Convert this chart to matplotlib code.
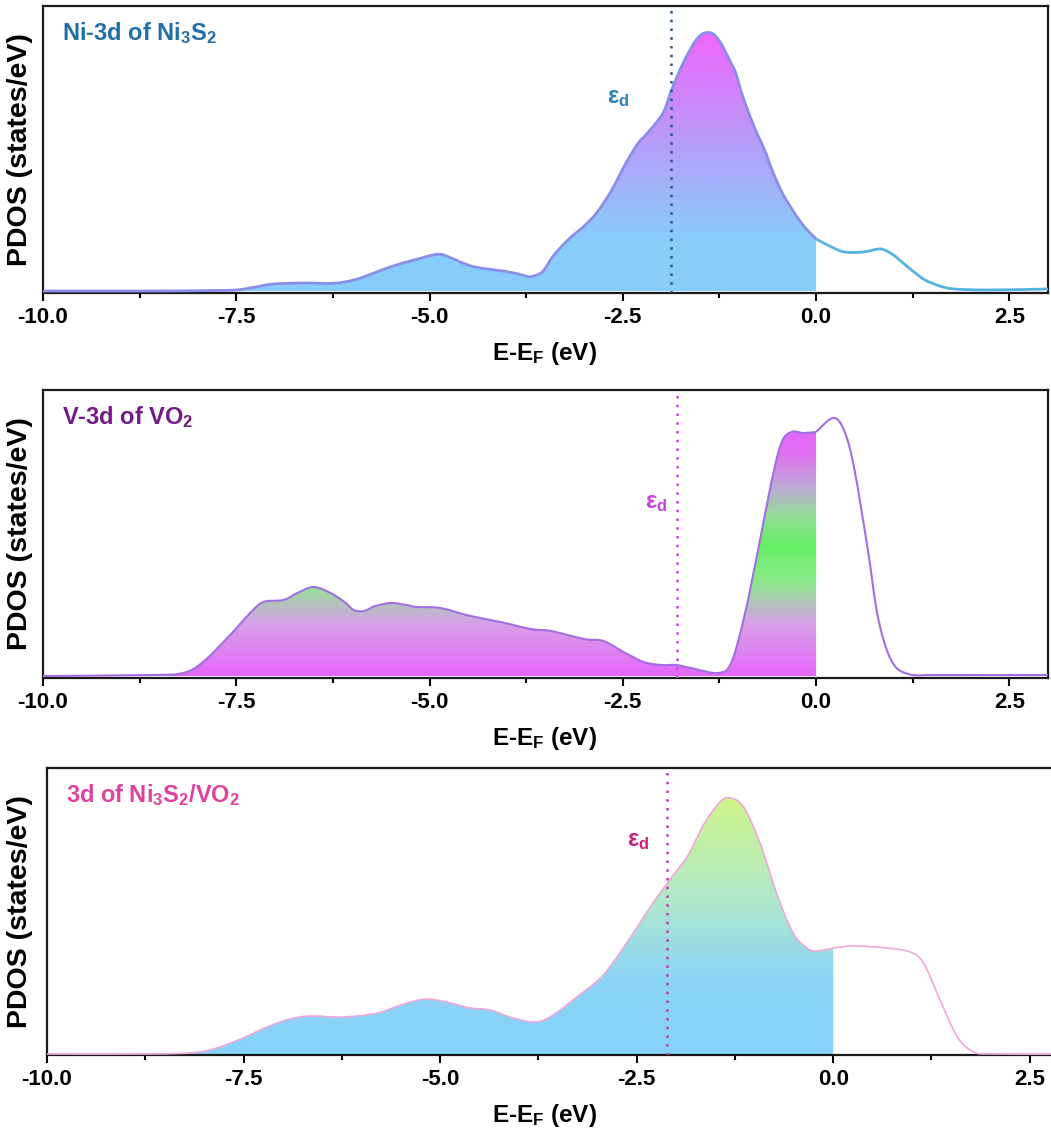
import matplotlib
matplotlib.use("Agg")
import matplotlib.pyplot as plt
import numpy as np
from matplotlib.colors import LinearSegmentedColormap
from matplotlib.path import Path
from matplotlib.patches import PathPatch

plt.rcParams["font.family"] = ["Liberation Sans", "DejaVu Sans"]
plt.rcParams["font.weight"] = "bold"
plt.rcParams["axes.labelweight"] = "bold"
plt.rcParams["mathtext.default"] = "regular"
plt.rcParams["axes.unicode_minus"] = False

# PDOS (energy in eV, density in arbitrary units)
ni_e = [-10.0, -8.5, -8.0, -7.8, -7.5, -7.25, -7.02, -6.6, -6.24, -5.98, -5.75, -5.5,
        -5.2, -4.9, -4.75, -4.6, -4.43, -4.2, -3.99, -3.8, -3.69, -3.54, -3.4, -3.21,
        -3.0, -2.84, -2.65, -2.46, -2.3, -2.18, -1.98, -1.87, -1.7, -1.52, -1.37,
        -1.25, -1.1, -1.04, -0.95, -0.8, -0.66, -0.57, -0.45, -0.33, -0.19, -0.1, 0.0,
        0.2, 0.37, 0.61, 0.84, 1.0, 1.08, 1.25, 1.41, 1.6, 1.79, 2.25, 3.0]
ni_d = [0, 0, 0.3, 0.5, 1, 4, 7, 8, 7.7, 11, 17, 24.3,
        31, 36.7, 34, 29, 24.3, 21.5, 19.3, 16, 14.3, 19.3, 35, 51,
        65, 78, 100, 128, 148, 158, 178, 201, 231, 254, 258.3,
        250, 228, 218, 195, 164, 140, 121, 100, 84, 68, 60, 52,
        44, 39, 39, 42, 36, 31, 20, 11, 5, 2, 1, 2]

v_e = [-10.0, -8.61, -8.19, -7.93, -7.58, -7.32, -7.15, -6.89, -6.71, -6.5, -6.28,
       -6.1, -5.98, -5.85, -5.7, -5.5, -5.3, -5.16, -4.86, -4.47, -4.08, -3.69, -3.43,
       -3.0, -2.75, -2.49, -2.23, -2.0, -1.81, -1.62, -1.27, -1.1, -0.93, -0.75, -0.58,
       -0.45, -0.32, -0.16, 0.0, 0.22, 0.36, 0.49, 0.67, 0.8, 0.97, 1.19, 1.62, 3.0]
v_d = [0, 1, 3, 14, 41, 63, 74, 76, 83, 89, 83,
       74, 66, 65, 70, 73, 71, 69, 68, 60, 54, 47, 45,
       37, 35, 24, 14, 11, 11, 8, 3, 13, 59, 126, 193,
       233, 244, 243, 244, 258, 246, 209, 126, 59, 16, 2, 1, 1]

hy_e = [-10.0, -8.69, -8.14, -7.84, -7.48, -7.2, -6.91, -6.65, -6.23, -5.8, -5.46,
        -5.17, -4.87, -4.62, -4.36, -4.11, -3.82, -3.6, -3.26, -2.96, -2.75, -2.5,
        -2.3, -2.1, -1.86, -1.65, -1.44, -1.31, -1.14, -0.93, -0.72, -0.51, -0.33,
        -0.21, 0.0, 0.26, 0.68, 0.98, 1.15, 1.36, 1.58, 1.79, 2.04, 3.0]
hy_d = [0, 0, 1.3, 6, 17, 27, 35, 38, 37, 41, 50,
        55, 51, 46, 44, 37, 32, 37, 57, 76, 97, 126,
        150, 172, 197, 229, 252, 256, 247, 211, 161, 121, 106,
        103, 106, 108, 106, 102, 91, 54, 17, 2, 0, 0]

eps_d = [-1.88, -1.80, -2.11]
titles = ["Ni-3d of Ni$_3$S$_2$", "V-3d of VO$_2$", "3d of Ni$_3$S$_2$/VO$_2$"]

PANELS = [
    dict(e=ni_e, d=ni_d, eps=eps_d[0], title=titles[0], tcol="#1f6fa8", ecol="#2a82b5",
         vcol="#1f5a85", lc_occ="#8a8ee8", lc_emp="#55b3df", lw=2.0,
         grad=[(0, "#87cefa"), (0.2, "#88cdfa"), (1.0, "#ee66fa")], gtop=258,
         rect=(43, 6, 1048, 293), ylim=(-2, 285), epos=(-2.56, 193)),
    dict(e=v_e, d=v_d, eps=eps_d[1], title=titles[1], tcol="#74198a", ecol="#c443dc",
         vcol="#c048d8", lc_occ="#a070e0", lc_emp="#a070e0", lw=1.5,
         grad=[(0, "#e468f8"), (0.2, "#d8a0e8"), (0.36, "#8ce88c"), (0.5, "#66f066"),
               (0.62, "#94dc98"), (0.73, "#c0a8d8"), (0.86, "#e070f0"), (1.0, "#e468f8")],
         gtop=260, rect=(43, 390, 1048, 678), ylim=(-2, 286), epos=(-2.07, 173)),
    dict(e=hy_e, d=hy_d, eps=eps_d[2], title=titles[2], tcol="#e0409e", ecol="#d0207a",
         vcol="#c03aa8", lc_occ="#f0a8d8", lc_emp="#f0a8d8", lw=1.2,
         grad=[(0, "#87d2fa"), (0.3, "#8cd5f5"), (0.6, "#b0e8cc"), (1.0, "#cff58a")],
         gtop=256, rect=(47, 768, 1069, 1055), ylim=(-1, 286), epos=(-2.48, 214)),
]


def smooth_path(x, y):
    """Catmull-Rom curve through the read points, drawn as cubic Bezier segments."""
    pts = np.column_stack([x, y]).astype(float)
    verts = [pts[0]]
    codes = [Path.MOVETO]
    n = len(pts)
    for i in range(n - 1):
        p0 = pts[max(i - 1, 0)]
        p1, p2 = pts[i], pts[i + 1]
        p3 = pts[min(i + 2, n - 1)]
        c1 = p1 + (p2 - p0) / 6
        c2 = p2 - (p3 - p1) / 6
        verts += [c1, c2, p2]
        codes += [Path.CURVE4] * 3
    return np.array(verts), codes


W, H = 1051, 1130
fig = plt.figure(figsize=(W / 100, H / 100), dpi=100)

for p in PANELS:
    x0, y0, x1, y1 = p["rect"]
    ax = fig.add_axes([x0 / W, 1 - y1 / H, (x1 - x0) / W, (y1 - y0) / H])
    e = np.array(p["e"])
    d = np.array(p["d"], dtype=float)
    occ = e <= 0
    emp = e >= 0

    v_occ, c_occ = smooth_path(e[occ], d[occ])
    v_emp, c_emp = smooth_path(e[emp], d[emp])

    # gradient fill of the occupied states, clipped to the area under the curve
    fill_v = np.vstack([v_occ, [[0, 0], [e[0], 0], [e[0], 0]]])
    fill_c = c_occ + [Path.LINETO, Path.LINETO, Path.CLOSEPOLY]
    clip = PathPatch(Path(fill_v, fill_c), facecolor="none", edgecolor="none",
                     transform=ax.transData)
    ax.add_patch(clip)
    cmap = LinearSegmentedColormap.from_list("g", p["grad"])
    im = ax.imshow(np.linspace(0, 1, 256).reshape(-1, 1), cmap=cmap, origin="lower",
                   extent=[-10, 0, 0, p["gtop"]], aspect="auto", zorder=1,
                   interpolation="bilinear")
    im.set_clip_path(clip)

    ax.add_patch(PathPatch(Path(v_occ, c_occ), fill=False, edgecolor=p["lc_occ"],
                           lw=p["lw"], zorder=3))
    ax.add_patch(PathPatch(Path(v_emp, c_emp), fill=False, edgecolor=p["lc_emp"],
                           lw=p["lw"], zorder=3))
    ax.axvline(p["eps"], color=p["vcol"], ls=(0, (1, 2.5)), lw=1.8, zorder=4)

    ax.text(p["epos"][0], p["epos"][1], r"$\mathregular{\epsilon_d}$", color=p["ecol"],
            fontsize=17, ha="center", va="center")
    ax.text(0.019, 0.905, p["title"], transform=ax.transAxes, color=p["tcol"],
            fontsize=17, ha="left", va="center")

    ax.set_xlim(-10, 3)
    ax.set_ylim(*p["ylim"])
    ax.set_xticks([-10, -7.5, -5, -2.5, 0, 2.5])
    ax.set_xticklabels(["-10.0", "-7.5", "-5.0", "-2.5", "0.0", "2.5"])
    ax.set_xticks(np.arange(-8.75, 3, 2.5), minor=True)
    ax.set_yticks([])
    ax.tick_params(axis="x", which="major", direction="out", length=6, width=1.5,
                   labelsize=16, pad=4)
    ax.tick_params(axis="x", which="minor", direction="out", length=3.5, width=1.5)
    for s in ax.spines.values():
        s.set_linewidth(1.6)
        s.set_color("#1a1a1a")

    ax.set_xlabel("E-E$_F$ (eV)", fontsize=17.5)
    ax.set_ylabel("PDOS (states/eV)", fontsize=20.5)
    ax.xaxis.set_label_coords((545 - x0) / (x1 - x0), -47 / (y1 - y0))
    ax.yaxis.set_label_coords(-(x0 - 33) / (x1 - x0), 0.5)

fig.savefig("out.png", dpi=100)
